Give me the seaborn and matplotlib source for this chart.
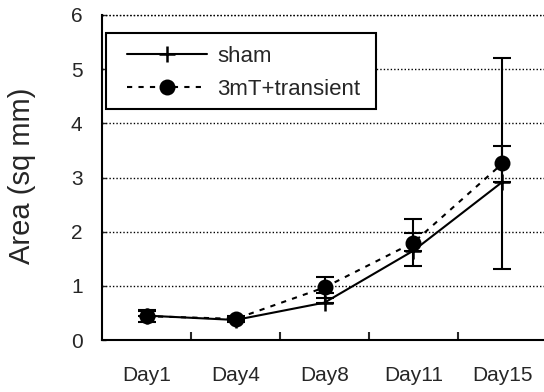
import matplotlib
matplotlib.use("Agg")
import matplotlib.pyplot as plt
import seaborn as sns
import pandas as pd
import numpy as np
from matplotlib.ticker import FixedLocator
from matplotlib.patches import Rectangle

days = ["Day1", "Day4", "Day8", "Day11", "Day15"]
sham = [0.45, 0.37, 0.69, 1.65, 2.92]
sham_err_plus = [0.10, 0.05, 0.18, 0.32, 0.67]
tmt = [0.44, 0.39, 0.97, 1.80, 3.26]
tmt_err = [0.10, 0.06, 0.20, 0.43, 1.94]
series_names = ["sham", "3mT+transient"]
y_ticks = [0, 1, 2, 3, 4, 5, 6]
y_label = "Area (sq mm)"

sns.set_theme(style="white")
plt.rcParams["font.family"] = ["Liberation Sans", "DejaVu Sans"]

pos = list(range(len(days)))
df_sham = pd.DataFrame({"pos": pos, "value": sham})
df_tmt = pd.DataFrame({"pos": pos, "value": tmt})

fig = plt.figure(figsize=(5.44, 3.92), dpi=100)
ax = fig.add_axes([102 / 544, 52 / 392, 445 / 544, 325 / 392])

sns.lineplot(data=df_sham, x="pos", y="value", color="black", marker="+",
             markersize=11.5, markeredgewidth=1.8, markeredgecolor="black",
             linewidth=1.5, label=series_names[0], ax=ax, zorder=3)
sns.lineplot(data=df_tmt, x="pos", y="value", color="black", marker="o",
             markersize=11.5, markeredgewidth=0, linewidth=1.5,
             linestyle=(0, (2.5, 3)), label=series_names[1], ax=ax, zorder=3)

ax.errorbar(pos, sham, yerr=[[0] * len(days), sham_err_plus], fmt="none", ecolor="black",
            elinewidth=1.5, capsize=6.5, capthick=1.5, zorder=4)
ax.errorbar(pos, tmt, yerr=tmt_err, fmt="none", ecolor="black",
            elinewidth=1.5, capsize=6.5, capthick=1.5, zorder=4)

ax.set_xlim(-0.5, len(days) - 0.5)
ax.set_ylim(0, 6)
ax.set_xticks(pos)
ax.set_xticklabels(days, fontsize=15)
ax.xaxis.set_minor_locator(FixedLocator([p + 0.5 for p in pos[:-1]]))
ax.tick_params(axis="x", which="major", length=0, pad=19)
ax.tick_params(axis="x", which="minor", direction="in", length=6, width=1.5, bottom=True)
ax.set_yticks(y_ticks)
ax.set_yticklabels([str(t) for t in y_ticks], fontsize=15)
ax.tick_params(axis="y", direction="in", length=3, width=1, pad=14, left=True)
ax.set_xlabel("")
ax.set_ylabel("")
fig.text(22 / 544, 1 - 176 / 392, y_label, rotation=90, ha="center", va="center", fontsize=21)

ax.yaxis.grid(True, color="black", linestyle=(0, (1, 1.5)), linewidth=1)
ax.xaxis.grid(False)
ax.set_axisbelow(True)
for s in ("top", "right"):
    ax.spines[s].set_visible(False)
for s in ("left", "bottom"):
    ax.spines[s].set_color("black")
    ax.spines[s].set_linewidth(1.5)
ax.axhline(6, color="black", linestyle=(0, (1, 1.5)), linewidth=1, clip_on=False)

# legend box (white, framed) then legend entries
box = Rectangle((106 / 544, 1 - 109 / 392), 270 / 544, 76 / 392, transform=fig.transFigure,
                facecolor="white", edgecolor="black", linewidth=1.5, zorder=5, clip_on=False)
ax.add_patch(box)
handles, labels = ax.get_legend_handles_labels()
leg = ax.legend(handles, labels, loc="upper left",
                bbox_to_anchor=(127 / 544, 1 - 46 / 392), bbox_transform=fig.transFigure,
                borderaxespad=0, fontsize=16, frameon=False,
                handlelength=3.6, handletextpad=0.45, borderpad=0, labelspacing=0.52)
leg.set_zorder(6)

fig.savefig("out.png", dpi=100, facecolor="white")
